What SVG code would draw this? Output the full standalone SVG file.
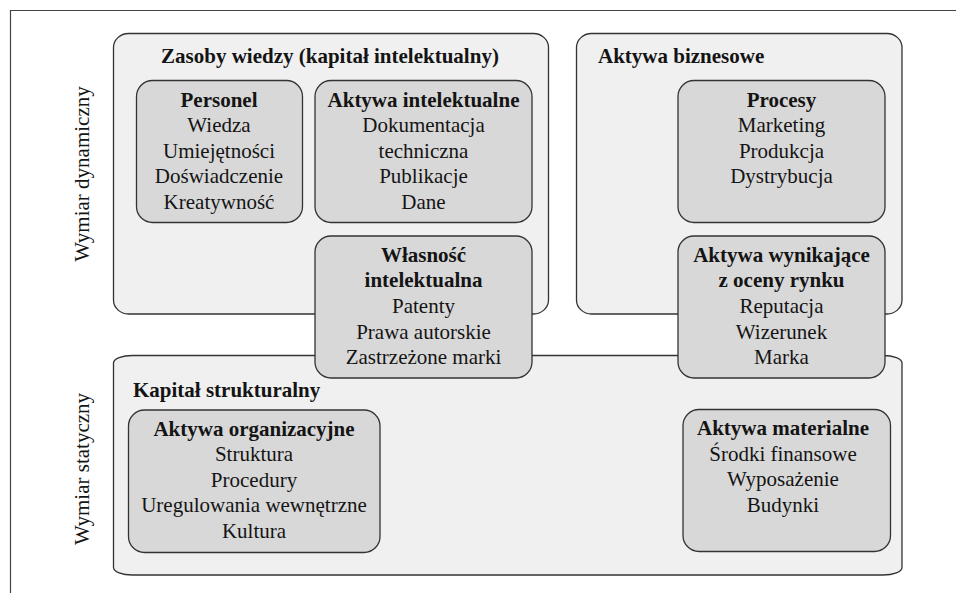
<svg xmlns="http://www.w3.org/2000/svg" width="956" height="593" viewBox="0 0 956 593">
  <style>
    .t { font-size: 21px; fill: #141414; }
    .b { font-weight: bold; }
    .c { text-anchor: middle; }
    .outer { fill: #f0f0f0; stroke: #333; stroke-width: 1.3; }
    .inner { fill: #d8d8d8; stroke: #333; stroke-width: 1.3; }
  </style>
  <rect width="956" height="593" fill="#ffffff"/>
  <g font-family="Liberation Serif" class="t">
  <!-- frame -->
  <path d="M10.5,593 V10.5 H956" fill="none" stroke="#444" stroke-width="1.2"/>

  <!-- axis labels -->
  <text transform="translate(89,174) rotate(-90)" class="c">Wymiar dynamiczny</text>
  <text transform="translate(89,469) rotate(-90)" class="c">Wymiar statyczny</text>

  <!-- container groups -->
  <g id="zasoby-wiedzy">
    <rect class="outer" x="113.5" y="33.5" width="435" height="280.5" rx="15" ry="14"/>
    <text class="b c" x="330" y="63">Zasoby wiedzy (kapitał intelektualny)</text>
  </g>
  <g id="aktywa-biznesowe">
    <rect class="outer" x="576.5" y="33.5" width="325.5" height="280.5" rx="15" ry="14"/>
    <text class="b" x="598" y="63">Aktywa biznesowe</text>
  </g>
  <g id="kapital-strukturalny">
    <rect class="outer" x="113.5" y="355.5" width="788.5" height="219.5" rx="19" ry="7.5"/>
    <text class="b" x="133" y="397">Kapitał strukturalny</text>
  </g>

  <!-- inner nodes -->
  <g id="personel">
    <rect class="inner" x="136.5" y="80.5" width="166" height="142" rx="16" ry="16"/>
    <text class="b c" x="219" y="107">Personel</text>
    <text class="c" x="219" y="132">Wiedza</text>
    <text class="c" x="219" y="157.5">Umiejętności</text>
    <text class="c" x="219" y="183">Doświadczenie</text>
    <text class="c" x="219" y="208.5">Kreatywność</text>
  </g>
  <g id="aktywa-intelektualne">
    <rect class="inner" x="315" y="80.5" width="217" height="142" rx="16" ry="16"/>
    <text class="b c" x="423.5" y="107">Aktywa intelektualne</text>
    <text class="c" x="423.5" y="132">Dokumentacja</text>
    <text class="c" x="423.5" y="157.5">techniczna</text>
    <text class="c" x="423.5" y="183">Publikacje</text>
    <text class="c" x="423.5" y="208.5">Dane</text>
  </g>
  <g id="wlasnosc-intelektualna">
    <rect class="inner" x="315" y="236" width="217" height="142" rx="16" ry="16"/>
    <text class="b c" x="423.5" y="262">Własność</text>
    <text class="b c" x="423.5" y="287">intelektualna</text>
    <text class="c" x="423.5" y="313">Patenty</text>
    <text class="c" x="423.5" y="338.5">Prawa autorskie</text>
    <text class="c" x="423.5" y="364">Zastrzeżone marki</text>
  </g>
  <g id="procesy">
    <rect class="inner" x="678" y="80.5" width="207" height="142" rx="16" ry="16"/>
    <text class="b c" x="781.5" y="107">Procesy</text>
    <text class="c" x="781.5" y="132">Marketing</text>
    <text class="c" x="781.5" y="157.5">Produkcja</text>
    <text class="c" x="781.5" y="183">Dystrybucja</text>
  </g>
  <g id="aktywa-rynkowe">
    <rect class="inner" x="678" y="236" width="207" height="142" rx="16" ry="16"/>
    <text class="b c" x="781.5" y="262">Aktywa wynikające</text>
    <text class="b c" x="781.5" y="287">z oceny rynku</text>
    <text class="c" x="781.5" y="313">Reputacja</text>
    <text class="c" x="781.5" y="338.5">Wizerunek</text>
    <text class="c" x="781.5" y="364">Marka</text>
  </g>
  <g id="aktywa-organizacyjne">
    <rect class="inner" x="128.5" y="410" width="251.5" height="142.5" rx="16" ry="16"/>
    <text class="b c" x="254" y="435.5">Aktywa organizacyjne</text>
    <text class="c" x="254" y="461">Struktura</text>
    <text class="c" x="254" y="486.5">Procedury</text>
    <text class="c" x="254" y="512">Uregulowania wewnętrzne</text>
    <text class="c" x="254" y="537.5">Kultura</text>
  </g>
  <g id="aktywa-materialne">
    <rect class="inner" x="683" y="409.5" width="207.5" height="142" rx="16" ry="16"/>
    <text class="b c" x="783" y="435">Aktywa materialne</text>
    <text class="c" x="783" y="460.5">Środki finansowe</text>
    <text class="c" x="783" y="486">Wyposażenie</text>
    <text class="c" x="783" y="511.5">Budynki</text>
  </g>

  <g id="connectors"/>
  </g>
</svg>
